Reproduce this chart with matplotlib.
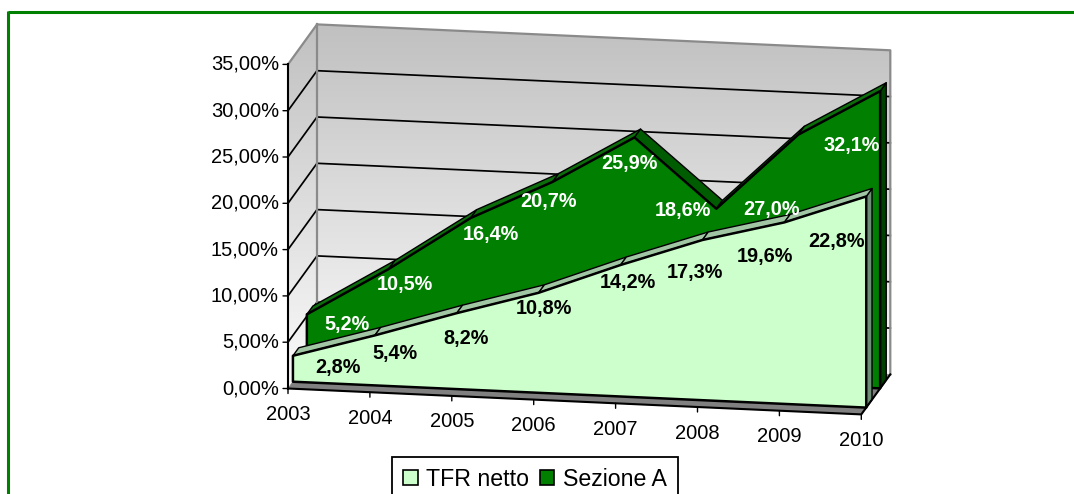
import numpy as np
import matplotlib
matplotlib.use("Agg")
import matplotlib.pyplot as plt
from matplotlib.colors import LinearSegmentedColormap
from matplotlib.patches import Patch, Polygon

plt.rcParams['font.family'] = ['Liberation Sans', 'DejaVu Sans']

# data
years = ['2003', '2004', '2005', '2006', '2007', '2008', '2009', '2010']
yticks = [0, 5, 10, 15, 20, 25, 30, 35]
ytick_labels = ['0,00%', '5,00%', '10,00%', '15,00%', '20,00%', '25,00%', '30,00%', '35,00%']
tfr_netto = [2.8, 5.4, 8.2, 10.8, 14.2, 17.3, 19.6, 22.8]
sezione_a = [5.2, 10.5, 16.4, 20.7, 25.9, 18.6, 27.0, 32.1]
tfr_labels = ['2,8%', '5,4%', '8,2%', '10,8%', '14,2%', '17,3%', '19,6%', '22,8%']
sez_labels = ['5,2%', '10,5%', '16,4%', '20,7%', '25,9%', '18,6%', '27,0%', '32,1%']

# label offsets from the front top corner of each point, in pixels
tfr_offsets = [(45, 12), (20, 18), (9, 25), (5, 16), (7, 17), (-7, 32), (-19, 34), (-30, 45)]
sez_offsets = [(40, 10), (16, 16), (20, 16), (-4, 20), (-5, 26), (-33, 2), (-27, 75), (-28, 54)]

# size of one year / one percent on screen, origin of the chart
W, H = 1074, 494
PX_YEAR = 81.9
PX_PCT = 9.26
X0, Y0 = 288, 388.5
DROP = 3.7 / PX_PCT      # front edge runs downhill
DEPTH_X = 29 / PX_YEAR
DEPTH_Y = 40 / PX_PCT

C_TFR, C_TFR_TOP, C_TFR_SIDE = '#ccffcc', '#a0c6a4', '#6f8f78'
C_SEZ, C_SEZ_TOP, C_SEZ_FALL, C_SEZ_SIDE = '#007f00', '#0b6e0b', '#005c00', '#004000'


def proj(i, v, d):
    """year index, value, depth 0..1 -> plain axes coordinates"""
    return i + DEPTH_X * d, v - DROP * i + DEPTH_Y * d


def quad(ax, pts, color, edge='black', lw=1.3, z=2):
    ax.add_patch(Polygon([proj(*p) for p in pts], closed=True, facecolor=color,
                         edgecolor=edge, linewidth=lw, joinstyle='round', zorder=z))


def draw_series(ax, vals, d0, d1, front, top, fall, side, z):
    n = len(vals) - 1
    quad(ax, [(n, 0, d0), (n, vals[n], d0), (n, vals[n], d1), (n, 0, d1)], side, lw=1.0, z=z)
    for i in range(n):
        c = fall if vals[i + 1] < vals[i] else top
        quad(ax, [(i, vals[i], d0), (i + 1, vals[i + 1], d0),
                  (i + 1, vals[i + 1], d1), (i, vals[i], d1)], c, lw=1.0, z=z)
    pts = [(0, 0, d0)] + [(i, v, d0) for i, v in enumerate(vals)] + [(n, 0, d0)]
    quad(ax, pts, front, lw=1.8, z=z + 0.5)


fig = plt.figure(figsize=(W / 100, H / 100), dpi=100)
ax = fig.add_axes([0, 0, 1, 1])
ax.set_xlim(-X0 / PX_YEAR, (W - X0) / PX_YEAR)
ax.set_ylim((Y0 - H) / PX_PCT, Y0 / PX_PCT)
ax.axis('off')

n = len(years) - 1
top = yticks[-1]

# walls with the grey to white fade
cmap = LinearSegmentedColormap.from_list('wall', ['#c0c0c0', '#ffffff'])
side_wall = Polygon([proj(0, 0, 0), proj(0, top, 0), proj(0, top, 1), proj(0, 0, 1)],
                    transform=ax.transData, fill=False, edgecolor='none')
back_wall = Polygon([proj(0, 0, 1), proj(0, top, 1), proj(n, top, 1), proj(n, 0, 1)],
                    transform=ax.transData, fill=False, edgecolor='none')
fade = np.linspace(0, 1, 256).reshape(-1, 1)
fade_top = proj(0, top, 1)[1]
fade_bot = proj(n, 0, 1)[1] - 4
for wall in (side_wall, back_wall):
    ax.add_patch(wall)
    im = ax.imshow(fade, cmap=cmap, aspect='auto', origin='upper', zorder=0,
                   extent=[-1, n + 1, fade_bot, fade_top])
    im.set_clip_path(wall)
ax.set_xlim(-X0 / PX_YEAR, (W - X0) / PX_YEAR)
ax.set_ylim((Y0 - H) / PX_PCT, Y0 / PX_PCT)

# grid
for v in yticks[1:]:
    xs, ys = zip(proj(0, v, 0), proj(0, v, 1), proj(n, v, 1))
    if v < top:
        ax.plot(xs, ys, color='black', lw=1.25, zorder=1)

# wall borders
xs, ys = zip(proj(0, top, 0), proj(0, top, 1), proj(n, top, 1), proj(n, 0, 1))
ax.plot(xs, ys, color='#8a8a8a', lw=1.6, zorder=1)
xs, ys = zip(proj(0, 0, 1), proj(0, top, 1))
ax.plot(xs, ys, color='#8a8a8a', lw=1.6, zorder=1)

# floor
quad(ax, [(0, 0, 0), (n, 0, 0), (n, 0, 1), (0, 0, 1)], '#808080', edge='#808080', lw=0.5, z=1.5)

draw_series(ax, sezione_a, 0.65, 0.86, C_SEZ, C_SEZ_TOP, C_SEZ_FALL, C_SEZ_SIDE, 2)
draw_series(ax, tfr_netto, 0.17, 0.37, C_TFR, C_TFR_TOP, C_TFR_TOP, C_TFR_SIDE, 3)

# axes lines and ticks
xs, ys = zip(proj(0, 0, 0), proj(0, top, 0))
ax.plot(xs, ys, color='black', lw=1.5, zorder=4)
xs, ys = zip(proj(0, 0, 0), proj(n, 0, 0), proj(n, 0, 1))
ax.plot(xs, ys, color='black', lw=1.5, zorder=4)

for v, lab in zip(yticks, ytick_labels):
    p = proj(0, v, 0)
    ax.annotate('', xy=p, xytext=(-5, 0), textcoords='offset pixels',
                arrowprops=dict(arrowstyle='-', color='black', lw=1.0, shrinkA=0, shrinkB=0), zorder=4)
    ax.annotate(lab, xy=p, xytext=(-9, 0), textcoords='offset pixels', ha='right', va='center',
                fontsize=14.5, color='black', zorder=6)

for i, lab in enumerate(years):
    p = proj(i, 0, 0)
    ax.annotate('', xy=p, xytext=(0, -5), textcoords='offset pixels',
                arrowprops=dict(arrowstyle='-', color='black', lw=1.0, shrinkA=0, shrinkB=0), zorder=4)
    ax.annotate(lab, xy=p, xytext=(0, -26), textcoords='offset pixels', ha='center', va='center',
                fontsize=14.5, color='black', zorder=6)

# value labels
for i, (lab, off) in enumerate(zip(sez_labels, sez_offsets)):
    ax.annotate(lab, xy=proj(i, sezione_a[i], 0.65), xytext=(off[0], -off[1]), textcoords='offset pixels',
                ha='center', va='center', fontsize=14.3, fontweight='bold', color='white', zorder=7)
for i, (lab, off) in enumerate(zip(tfr_labels, tfr_offsets)):
    ax.annotate(lab, xy=proj(i, tfr_netto[i], 0.17), xytext=(off[0], -off[1]), textcoords='offset pixels',
                ha='center', va='center', fontsize=14.3, fontweight='bold', color='black', zorder=7)

# legend, runs off the bottom of the picture like the original
handles = [Patch(facecolor=C_TFR, edgecolor='black', lw=1.2),
           Patch(facecolor=C_SEZ, edgecolor='black', lw=1.2)]
leg = ax.legend(handles, ['TFR netto', 'Sezione A'], ncol=2, loc='upper left',
                bbox_to_anchor=(392 / W, 1 - 457 / H), borderaxespad=0, fontsize=16.7,
                fancybox=False, framealpha=1, edgecolor='black', handlelength=0.62,
                handleheight=0.62, handletextpad=0.38, columnspacing=0.45, borderpad=0.48)
leg.get_frame().set_linewidth(1.3)
leg.set_zorder(8)

# green frame of the page, top and left only
ax.plot([8 / W, 1], [1 - 12 / H, 1 - 12 / H], transform=ax.transAxes, color='#008000', lw=2.2,
        solid_capstyle='butt', zorder=9)
ax.plot([8 / W, 8 / W], [1 - 11 / H, 0], transform=ax.transAxes, color='#008000', lw=2.2,
        solid_capstyle='butt', zorder=9)

fig.savefig('out.png', dpi=100)
